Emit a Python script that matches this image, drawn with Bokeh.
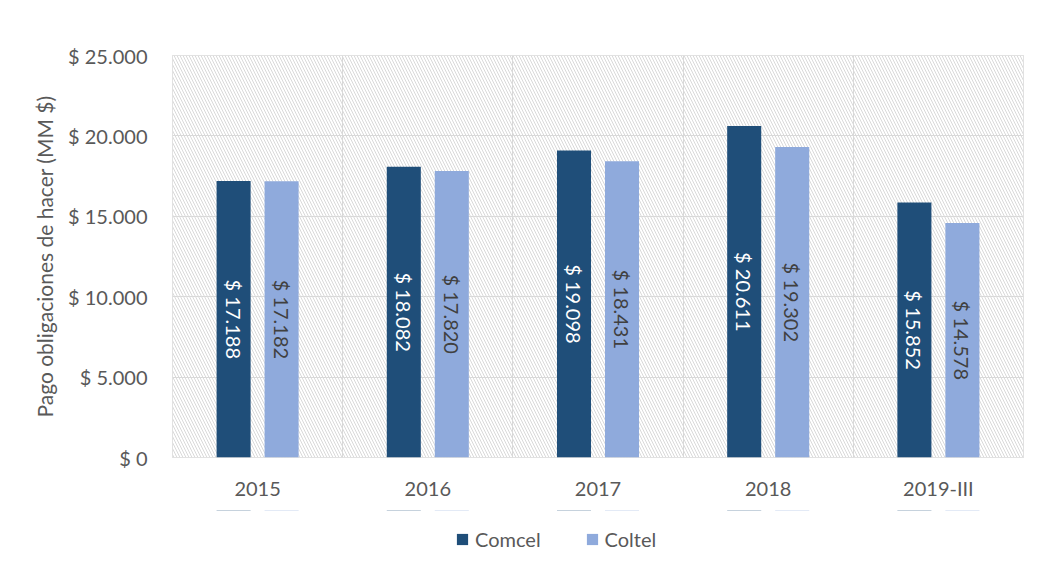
import math
from bokeh.plotting import figure
from bokeh.layouts import column
from bokeh.models import (Range1d, FixedTicker, BoxAnnotation, Legend, LegendItem,
                          ColumnDataSource)
from bokeh.core.properties import value
from bokeh.embed import file_html
from bokeh.resources import INLINE

categories = ["2015", "2016", "2017", "2018", "2019-III"]
comcel = [17188, 18082, 19098, 20611, 15852]
coltel = [17182, 17820, 18431, 19302, 14578]
comcel_labels = ["$ 17.188", "$ 18.082", "$ 19.098", "$ 20.611", "$ 15.852"]
coltel_labels = ["$ 17.182", "$ 17.820", "$ 18.431", "$ 19.302", "$ 14.578"]
series_names = ["Comcel", "Coltel"]
y_ticks = [0, 5000, 10000, 15000, 20000, 25000]
y_tick_labels = ["$ 0", "$ 5.000", "$ 10.000", "$ 15.000", "$ 20.000", "$ 25.000"]
y_title = "Pago obligaciones de hacer (MM $)"

FONT = "Lato"
TXT = "#595959"
GRID = "#d9d9d9"
C1 = "#1f4e79"
C2 = "#8faadc"
OFF = 0.141
BW = 0.2
W = 1039

n = len(categories)
centers = [i + 0.5 for i in range(n)]

p = figure(width=W, height=510, output_backend="svg", toolbar_location=None,
           x_range=Range1d(0, n), y_range=Range1d(0, 25000),
           min_border_left=172, min_border_right=16, min_border_top=55,
           min_border_bottom=53)
p.outline_line_color = GRID
p.outline_line_width = 1

# hatched plot area
p.add_layout(BoxAnnotation(level="image", fill_color="white", fill_alpha=1.0,
                           line_alpha=0, hatch_pattern="left_diagonal_line",
                           hatch_color="#d9d9d9", hatch_scale=6, hatch_weight=1))

# axes
p.xaxis.ticker = FixedTicker(ticks=centers)
p.xaxis.major_label_overrides = {c: lab for c, lab in zip(centers, categories)}
p.yaxis.ticker = FixedTicker(ticks=y_ticks)
p.yaxis.major_label_overrides = {t: lab for t, lab in zip(y_ticks, y_tick_labels)}
for ax in (p.xaxis[0], p.yaxis[0]):
    ax.axis_line_color = None
    ax.major_tick_line_color = None
    ax.minor_tick_line_color = None
    ax.major_label_text_font = FONT
    ax.major_label_text_font_size = "20px"
    ax.major_label_text_color = TXT
p.xaxis.major_label_standoff = 12
p.yaxis.major_label_standoff = 19
p.yaxis.axis_label = y_title
p.yaxis.axis_label_text_font = FONT
p.yaxis.axis_label_text_font_size = "21px"
p.yaxis.axis_label_text_font_style = "normal"
p.yaxis.axis_label_text_color = TXT
p.yaxis.axis_label_standoff = 8

p.xgrid.ticker = FixedTicker(ticks=[1, 2, 3, 4])
p.xgrid.grid_line_color = GRID
p.ygrid.grid_line_color = GRID

src = ColumnDataSource(dict(
    x1=[c - OFF for c in centers], x2=[c + OFF for c in centers],
    v1=comcel, v2=coltel,
    m1=[v / 2 for v in comcel], m2=[v / 2 for v in coltel],
    l1=comcel_labels, l2=coltel_labels))

p.vbar(x="x1", top="v1", width=BW, source=src, fill_color=C1, line_color=None)
p.vbar(x="x2", top="v2", width=BW, source=src, fill_color=C2, line_color=None)

p.text(x="x1", y="m1", text="l1", source=src, angle=-math.pi / 2,
       text_align="center", text_baseline="middle", text_color="white",
       text_font=value(FONT), text_font_size="20px")
p.text(x="x2", y="m2", text="l2", source=src, angle=-math.pi / 2,
       text_align="center", text_baseline="middle", text_color="#404040",
       text_font=value(FONT), text_font_size="20px")

# legend strip (its frame is aligned with the main frame by the column layout);
# the series are drawn here with zero height far outside the visible y range,
# so only their legend swatches show
pl = figure(width=W, height=62, output_backend="svg", toolbar_location=None,
            x_range=Range1d(0, n), y_range=Range1d(-2e6, -1e6),
            min_border=0, outline_line_color=None)
pl.axis.visible = False
pl.grid.visible = False
lr1 = pl.vbar(x="x1", bottom="v1", top="v1", width=BW, source=src,
              fill_color=C1, line_color=None)
lr2 = pl.vbar(x="x2", bottom="v2", top="v2", width=BW, source=src,
              fill_color=C2, line_color=None)
legend = Legend(items=[LegendItem(label=series_names[0], renderers=[lr1], index=0),
                       LegendItem(label=series_names[1], renderers=[lr2], index=0)],
                orientation="horizontal", location=(283, 21),
                glyph_width=14, glyph_height=14, label_standoff=6, spacing=44,
                label_text_font=FONT, label_text_font_size="20px",
                label_text_color=TXT, border_line_color=None,
                background_fill_alpha=0, margin=0, padding=6)
pl.add_layout(legend)

layout = column(p, pl, spacing=0)
open("out.html", "w").write(file_html(layout, INLINE))
